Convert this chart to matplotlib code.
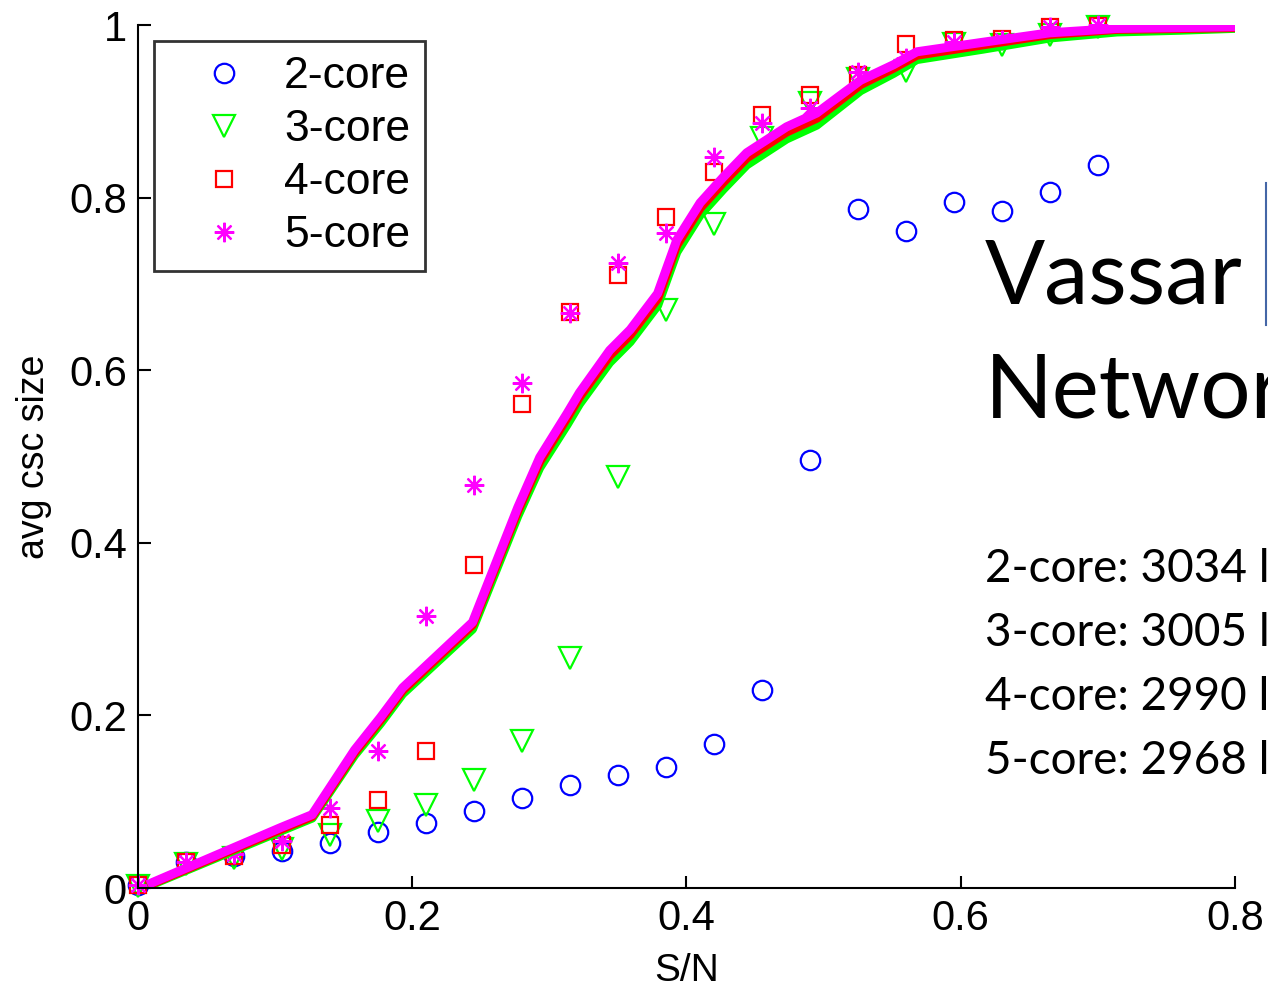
import numpy as np
import matplotlib
matplotlib.use("Agg")
import matplotlib.pyplot as plt
from matplotlib.lines import Line2D

plt.rcParams['font.family'] = ['Liberation Sans', 'DejaVu Sans']

# simulated csc size for each k-core, sampled along S/N
sn = [0.0, 0.035, 0.07, 0.105, 0.14, 0.175, 0.21, 0.245, 0.28, 0.315, 0.35,
      0.385, 0.42, 0.455, 0.49, 0.525, 0.56, 0.595, 0.63, 0.665, 0.70]

core2 = [0.003, 0.030, 0.037, 0.043, 0.052, 0.065, 0.075, 0.089, 0.104, 0.119, 0.131,
         0.140, 0.167, 0.229, 0.496, 0.787, 0.761, 0.795, 0.784, 0.806, 0.838]
core3 = [0.002, 0.028, 0.035, 0.045, 0.062, 0.078, 0.096, 0.125, 0.170, 0.267, 0.476,
         0.670, 0.770, 0.869, 0.910, 0.937, 0.947, 0.978, 0.977, 0.988, 0.998]
core4 = [0.003, 0.030, 0.037, 0.050, 0.073, 0.102, 0.159, 0.374, 0.561, 0.667, 0.710,
         0.778, 0.830, 0.896, 0.919, 0.942, 0.978, 0.983, 0.984, 0.998, 0.999]
core5 = [0.003, 0.030, 0.040, 0.055, 0.093, 0.159, 0.315, 0.467, 0.585, 0.666, 0.724,
         0.759, 0.847, 0.886, 0.904, 0.946, 0.962, 0.980, 0.983, 0.998, 1.000]

# analytic curves
sn_fine = [0.010, 0.104, 0.127, 0.158, 0.177, 0.193, 0.244, 0.277, 0.293, 0.313,
           0.322, 0.344, 0.359, 0.379, 0.393, 0.410, 0.427, 0.444, 0.473, 0.495,
           0.527, 0.551, 0.568, 0.616, 0.665, 0.714, 0.760, 0.797]
fit5 = [0.006, 0.070, 0.085, 0.160, 0.198, 0.232, 0.308, 0.441, 0.499, 0.550,
        0.574, 0.623, 0.647, 0.689, 0.751, 0.794, 0.824, 0.852, 0.882, 0.898,
        0.936, 0.954, 0.969, 0.980, 0.991, 0.996, 0.997, 0.998]
fit4 = [0.005, 0.068, 0.083, 0.157, 0.195, 0.229, 0.305, 0.437, 0.494, 0.545,
        0.569, 0.617, 0.641, 0.683, 0.745, 0.788, 0.818, 0.846, 0.876, 0.892,
        0.931, 0.950, 0.965, 0.977, 0.989, 0.995, 0.996, 0.997]
fit3 = [0.004, 0.066, 0.081, 0.154, 0.191, 0.225, 0.300, 0.431, 0.487, 0.537,
        0.561, 0.609, 0.633, 0.675, 0.737, 0.780, 0.810, 0.838, 0.868, 0.884,
        0.924, 0.944, 0.960, 0.972, 0.985, 0.992, 0.994, 0.996]

edge_counts = ["2-core: 3034 links", "3-core: 3005 links",
               "4-core: 2990 links", "5-core: 2968 links"]

fig = plt.figure(figsize=(12.68, 9.9), dpi=100)
ax = fig.add_axes([0.1088, 0.1030, 0.8651, 0.8717])

ms = 14
mew = 1.6
ax.plot(sn, core2, linestyle='none', marker='o', ms=ms, mew=mew,
        mfc='none', mec=(0, 0, 1), clip_on=False, label='2-core')
ax.plot(sn, core3, linestyle='none', marker='v', ms=ms + 2, mew=mew,
        mfc='none', mec=(0, 1, 0), clip_on=False, label='3-core')
ax.plot(sn, core4, linestyle='none', marker='s', ms=ms - 2, mew=mew,
        mfc='none', mec=(1, 0, 0), clip_on=False, label='4-core')
ax.plot(sn, core5, linestyle='none', marker=(8, 2, 0), ms=ms, mew=mew,
        mfc='none', mec=(1, 0, 1), clip_on=False, label='5-core')

ax.plot(sn_fine, fit3, color=(0, 1, 0), lw=6.5, solid_joinstyle='round')
ax.plot(sn_fine, fit4, color=(1, 0, 0), lw=6.5, solid_joinstyle='round')
ax.plot(sn_fine, fit5, color=(1, 0, 1), lw=6.5, solid_joinstyle='round')

ax.set_xlim(0, 0.8)
ax.set_ylim(0, 1)
ax.set_xticks([0, 0.2, 0.4, 0.6, 0.8])
ax.set_xticklabels(['0', '0.2', '0.4', '0.6', '0.8'])
ax.set_yticks([0, 0.2, 0.4, 0.6, 0.8, 1])
ax.set_yticklabels(['0', '0.2', '0.4', '0.6', '0.8', '1'])
ax.tick_params(direction='in', length=9, width=1.5, labelsize=30, pad=8)
ax.spines['top'].set_visible(False)
ax.spines['right'].set_visible(False)
ax.spines['left'].set_linewidth(1.5)
ax.spines['bottom'].set_linewidth(1.5)
ax.set_xlabel('S/N', fontsize=28, labelpad=10)
ax.set_ylabel('avg csc size', fontsize=27, labelpad=12)

leg = ax.legend(loc='upper left', bbox_to_anchor=(0.0146, 0.981), borderaxespad=0,
                fontsize=32, frameon=True, fancybox=False, edgecolor='black',
                handlelength=2.5, handletextpad=0.1, labelspacing=0.27,
                borderpad=0.33)
leg.get_frame().set_linewidth(2)

# slide text laid over the plot
fig.text(985 / 1268, 1 - 303 / 990, 'Vassar', fontsize=64, family='Lato',
         ha='left', va='baseline')
fig.text(985 / 1268, 1 - 418 / 990, 'Network', fontsize=64, family='Lato',
         ha='left', va='baseline')
for i, s in enumerate(edge_counts):
    fig.text(985 / 1268, 1 - (582 + 64 * i) / 990, s, fontsize=33, family='Lato',
             ha='left', va='baseline')
fig.add_artist(Line2D([1266 / 1268, 1266 / 1268], [1 - 183 / 990, 1 - 325 / 990],
                      color='#4466a6', lw=1.5, transform=fig.transFigure))

fig.savefig('out.png', dpi=100)
